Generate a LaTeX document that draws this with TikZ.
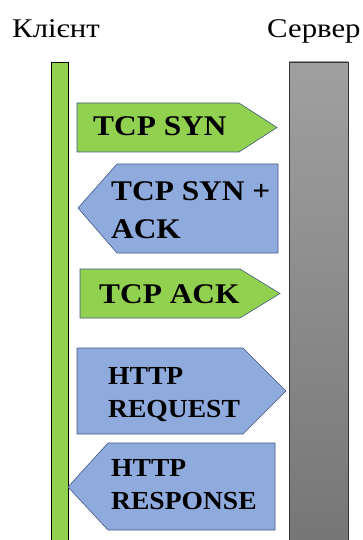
\documentclass[tikz,border=0pt]{standalone}
\usepackage{fontspec}
\setmainfont{Liberation Serif}
\definecolor{sendgreen}{RGB}{146,208,80}
\definecolor{replyblue}{RGB}{143,170,220}
\definecolor{edgeblue}{RGB}{65,90,130}
\definecolor{srvtop}{RGB}{160,160,160}
\definecolor{srvbot}{RGB}{118,118,118}
\tikzset{
  head/.style={font=\fontsize{27}{32}\selectfont, inner sep=0pt, anchor=base west, xscale=1.14},
  tcplbl/.style={font=\fontsize{28.5}{34}\selectfont\bfseries, inner sep=0pt, anchor=base west, xscale=1.1},
  httplbl/.style={font=\fontsize{26}{31}\selectfont\bfseries, inner sep=0pt, anchor=base west, xscale=1.06},
  greenmsg/.style={fill=sendgreen, draw=edgeblue, line width=0.6pt, line join=miter},
  bluemsg/.style={fill=replyblue, draw=edgeblue, line width=0.6pt, line join=miter},
}
\begin{document}
\begin{tikzpicture}[x=1pt, y=-1pt]
\useasboundingbox (0,0) rectangle (363,540);

% column headings
\node[head] (client) at (12,38) {Клієнт};
\node[head] (server) at (267,38) {Сервер};

% client lifeline
\fill[sendgreen] (51,62) rectangle (68,545);
\draw[line width=0.8pt] (51,545) -- (51,62) -- (68,62) -- (68,545);

% server lifeline
\shade[top color=srvtop, bottom color=srvbot] (289,62) rectangle (348,545);
\draw[line width=0.8pt, draw=black!80] (289,545) -- (289,62) -- (348,62) -- (348,545);

% TCP SYN
\draw[greenmsg] (77,103) -- (239,103) -- (277,127.5) -- (239,152) -- (77,152) -- cycle;
\node[tcplbl] (syn) at (93,136) {TCP SYN};

% TCP SYN + ACK
\draw[bluemsg] (278,164) -- (117,164) -- (78,208) -- (117,253) -- (278,253) -- cycle;
\node[tcplbl] (synack1) at (111,200) {TCP SYN +};
\node[tcplbl] (synack2) at (111,238) {ACK};

% TCP ACK
\draw[greenmsg] (80,269) -- (240,269) -- (280,293.5) -- (240,318) -- (80,318) -- cycle;
\node[tcplbl] (ack) at (99,303) {TCP ACK};

% HTTP REQUEST
\draw[bluemsg] (77,348) -- (243,348) -- (286,391) -- (243,434) -- (77,434) -- cycle;
\node[httplbl] (req1) at (108,384) {HTTP};
\node[httplbl] (req2) at (108,417) {REQUEST};

% HTTP RESPONSE
\draw[bluemsg] (275,443) -- (108,443) -- (68,487) -- (108,530) -- (275,530) -- cycle;
\node[httplbl] (resp1) at (111,476) {HTTP};
\node[httplbl] (resp2) at (111,509) {RESPONSE};
\end{tikzpicture}
\end{document}
